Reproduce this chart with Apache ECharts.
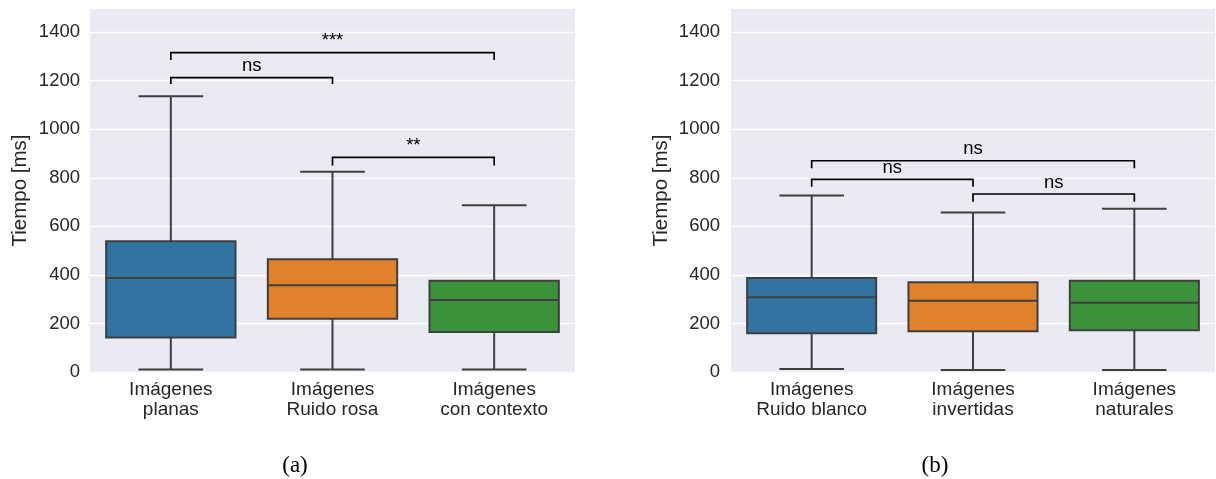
<!DOCTYPE html>
<html>
<head>
<meta charset="utf-8">
<script src="https://cdn.jsdelivr.net/npm/echarts@6/dist/echarts.min.js"></script>
<style>
  html, body { margin: 0; padding: 0; background: #ffffff; }
  #chart { width: 1216px; height: 479px; }
</style>
</head>
<body>
<div id="chart"></div>
<script>
// Categories for the two panels
const categoriesA = ['Imágenes\nplanas', 'Imágenes\nRuido rosa', 'Imágenes\ncon contexto'];
const categoriesB = ['Imágenes\nRuido blanco', 'Imágenes\ninvertidas', 'Imágenes\nnaturales'];

// Box statistics per category: [lower whisker, Q1, median, Q3, upper whisker] in ms
const statsA = [
  [10, 142, 387, 538, 1136],
  [10, 219, 357, 464, 825],
  [10, 165, 297, 376, 687]
];
const statsB = [
  [12, 160, 308, 387, 727],
  [8, 168, 293, 370, 657],
  [8, 172, 285, 376, 672]
];

// Significance brackets: [from category, to category, bar level, leg end, label]
const bracketsA = [
  [0, 1, 1212, 1186, 'ns'],
  [0, 2, 1315, 1285, '***'],
  [1, 2, 884, 850, '**']
];
const bracketsB = [
  [0, 1, 793, 763, 'ns'],
  [0, 2, 870, 839, 'ns'],
  [1, 2, 733, 701, 'ns']
];

// Value axis range and step
const yMin = 0;
const yMax = 1495;
const yStep = 200;

const panelCaptions = ['(a)', '(b)'];

const boxColors = ['#3274a1', '#e1812c', '#3a923a'];
const edgeColor = '#3f3f3f';
const textColor = '#262626';
const sansFont = '"Liberation Sans", Arial, sans-serif';

function renderBox(params, api) {
  const i = api.value(0);
  const band = api.size([1, 0])[0];
  const half = band * 0.4;
  const capHalf = band * 0.2;
  const lo = api.coord([i, api.value(1)]);
  const q1 = api.coord([i, api.value(2)]);
  const med = api.coord([i, api.value(3)]);
  const q3 = api.coord([i, api.value(4)]);
  const hi = api.coord([i, api.value(5)]);
  const x = lo[0];
  const line = { stroke: edgeColor, lineWidth: 2 };
  return {
    type: 'group',
    children: [
      { type: 'line', shape: { x1: x, y1: q3[1], x2: x, y2: hi[1] }, style: line },
      { type: 'line', shape: { x1: x, y1: q1[1], x2: x, y2: lo[1] }, style: line },
      { type: 'line', shape: { x1: x - capHalf, y1: hi[1], x2: x + capHalf, y2: hi[1] }, style: line },
      { type: 'line', shape: { x1: x - capHalf, y1: lo[1], x2: x + capHalf, y2: lo[1] }, style: line },
      {
        type: 'rect',
        shape: { x: x - half, y: q3[1], width: half * 2, height: q1[1] - q3[1] },
        style: { fill: boxColors[params.dataIndex % boxColors.length], stroke: edgeColor, lineWidth: 2 }
      },
      { type: 'line', shape: { x1: x - half, y1: med[1], x2: x + half, y2: med[1] }, style: line }
    ]
  };
}

function makeBracketRenderer(brackets) {
  return function (params, api) {
    const a = api.coord([api.value(0), api.value(2)]);
    const b = api.coord([api.value(1), api.value(2)]);
    const legY = api.coord([api.value(0), api.value(3)])[1];
    const label = brackets[params.dataIndex][4];
    return {
      type: 'group',
      children: [
        {
          type: 'polyline',
          shape: { points: [[a[0], legY], [a[0], a[1]], [b[0], b[1]], [b[0], legY]] },
          style: { stroke: '#000000', lineWidth: 1.7, fill: null }
        },
        {
          type: 'text',
          x: (a[0] + b[0]) / 2,
          y: a[1] - 2,
          style: {
            text: label,
            font: '18.5px ' + sansFont,
            fill: '#000000',
            textAlign: 'center',
            textVerticalAlign: 'bottom'
          }
        }
      ]
    };
  };
}

function yAxisFor(gridIndex, margin) {
  return {
    type: 'value',
    gridIndex: gridIndex,
    min: yMin,
    max: yMax,
    interval: yStep,
    name: 'Tiempo [ms]',
    nameLocation: 'middle',
    nameGap: 59,
    nameTextStyle: { fontFamily: sansFont, fontSize: 20.5, color: textColor },
    axisLine: { show: false },
    axisTick: { show: false },
    axisLabel: {
      fontFamily: sansFont,
      fontSize: 18.5,
      color: textColor,
      margin: margin,
      showMaxLabel: false,
      formatter: function (v) { return v % yStep === 0 ? String(v) : ''; }
    },
    splitLine: { show: true, showMaxLine: false, lineStyle: { color: '#ffffff', width: 1.3 } }
  };
}

function xAxisFor(gridIndex, cats) {
  return {
    type: 'category',
    gridIndex: gridIndex,
    data: cats,
    boundaryGap: true,
    axisLine: { show: false },
    axisTick: { show: false },
    splitLine: { show: false },
    axisLabel: {
      fontFamily: sansFont,
      fontSize: 19,
      lineHeight: 20,
      color: textColor,
      margin: 8,
      interval: 0
    }
  };
}

const chart = echarts.init(document.getElementById('chart'), null, { renderer: 'canvas' });

chart.setOption({
  animation: false,
  backgroundColor: '#ffffff',
  grid: [
    { left: 90, width: 485, top: 9, bottom: 107, show: true, backgroundColor: '#eaeaf2', borderWidth: 0 },
    { left: 731, width: 484, top: 9, bottom: 107, show: true, backgroundColor: '#eaeaf2', borderWidth: 0 }
  ],
  xAxis: [xAxisFor(0, categoriesA), xAxisFor(1, categoriesB)],
  yAxis: [yAxisFor(0, 10), yAxisFor(1, 11)],
  series: [
    {
      type: 'custom',
      xAxisIndex: 0, yAxisIndex: 0,
      data: statsA.map((s, i) => [i].concat(s)),
      encode: { x: 0, y: [1, 2, 3, 4, 5] },
      renderItem: renderBox,
      silent: true
    },
    {
      type: 'custom',
      xAxisIndex: 1, yAxisIndex: 1,
      data: statsB.map((s, i) => [i].concat(s)),
      encode: { x: 0, y: [1, 2, 3, 4, 5] },
      renderItem: renderBox,
      silent: true
    },
    {
      type: 'custom',
      xAxisIndex: 0, yAxisIndex: 0,
      data: bracketsA.map(b => b.slice(0, 4)),
      encode: { x: [0, 1], y: [2, 3] },
      renderItem: makeBracketRenderer(bracketsA),
      silent: true,
      z: 5
    },
    {
      type: 'custom',
      xAxisIndex: 1, yAxisIndex: 1,
      data: bracketsB.map(b => b.slice(0, 4)),
      encode: { x: [0, 1], y: [2, 3] },
      renderItem: makeBracketRenderer(bracketsB),
      silent: true,
      z: 5
    }
  ],
  graphic: [
    {
      type: 'text', x: 295, y: 466,
      style: { text: panelCaptions[0], font: '23px "Liberation Serif", serif', fill: '#000000', textAlign: 'center', textVerticalAlign: 'middle' }
    },
    {
      type: 'text', x: 935, y: 466,
      style: { text: panelCaptions[1], font: '23px "Liberation Serif", serif', fill: '#000000', textAlign: 'center', textVerticalAlign: 'middle' }
    }
  ]
});
</script>
</body>
</html>
